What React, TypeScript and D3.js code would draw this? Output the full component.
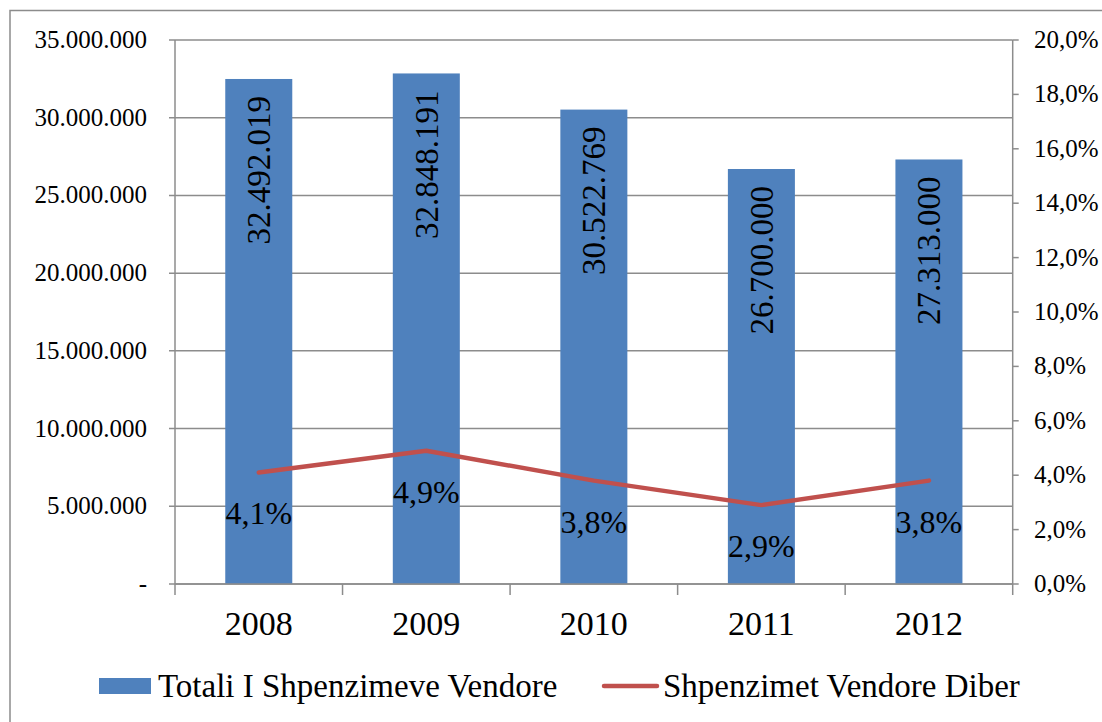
import React from 'react';
import * as d3 from 'd3';

// data
const years = ['2008', '2009', '2010', '2011', '2012'];
const totals = [32492019, 32848191, 30522769, 26700000, 27313000];
const diberShare = [4.1, 4.9, 3.8, 2.9, 3.8];
const leftTicks = [0, 5000000, 10000000, 15000000, 20000000, 25000000, 30000000, 35000000];
const rightTicks = [0, 2, 4, 6, 8, 10, 12, 14, 16, 18, 20];
const seriesNames = ['Totali I Shpenzimeve Vendore', 'Shpenzimet Vendore Diber'];

const W = 1102;
const H = 722;
const margin = { top: 40, right: 89.3, bottom: 138, left: 175 };
const FONT = "'Liberation Serif', serif";
const BLUE = '#4F81BD';
const RED = '#C0504D';
const GRID = '#8c8c8c';

// 32.492.019 style
const dotted = (v: number) => d3.format(',')(v).replace(/,/g, '.');
const comma1 = (v: number) => v.toFixed(1).replace('.', ',') + '%';

const App: React.FC = () => {
    const x0 = margin.left;
    const x1 = W - margin.right;
    const y0 = H - margin.bottom;
    const y1 = margin.top;

    const x = d3.scaleBand<string>().domain(years).range([x0, x1]).paddingInner(0.6).paddingOuter(0.3);
    const yL = d3.scaleLinear().domain([0, 35000000]).range([y0, y1]);
    const yR = d3.scaleLinear().domain([0, 20]).range([y0, y1]);

    const line = d3.line<number>()
        .x((_, i) => (x(years[i]) as number) + x.bandwidth() / 2)
        .y(d => yR(d));

    const step = (x1 - x0) / years.length;

    return (
        <svg width={W} height={H}
            style={{ position: 'absolute', left: 0, top: 0, background: '#fff', fontFamily: FONT }}>
            {/* chart border */}
            <rect x={10} y={10.5} width={W} height={H} fill="none" stroke={GRID} strokeWidth={1.5} />

            {/* gridlines + left axis */}
            {leftTicks.map(t => (
                <g key={t}>
                    <line x1={x0 - 6} x2={x1} y1={yL(t)} y2={yL(t)} stroke={GRID} strokeWidth={1.5} />
                    <text x={147} y={yL(t)} dy="0.32em" textAnchor="end" fontSize={25}>
                        {t === 0 ? '-' : dotted(t)}
                    </text>
                </g>
            ))}
            <line x1={x0} x2={x0} y1={y1} y2={y0} stroke={GRID} strokeWidth={1.5} />

            {/* right axis */}
            <line x1={x1} x2={x1} y1={y1} y2={y0} stroke={GRID} strokeWidth={1.5} />
            {rightTicks.map(t => (
                <g key={t}>
                    <line x1={x1} x2={x1 + 6} y1={yR(t)} y2={yR(t)} stroke={GRID} strokeWidth={1.5} />
                    <text x={1034} y={yR(t)} dy="0.32em" fontSize={25}>{comma1(t)}</text>
                </g>
            ))}

            {/* bars */}
            {totals.map((v, i) => (
                <rect key={years[i]} x={x(years[i])} y={yL(v)} width={x.bandwidth()} height={y0 - yL(v)} fill={BLUE} />
            ))}

            {/* bottom axis */}
            <line x1={x0} x2={x1} y1={y0} y2={y0} stroke={GRID} strokeWidth={1.5} />
            {d3.range(years.length + 1).map(i => (
                <line key={i} x1={x0 + i * step} x2={x0 + i * step} y1={y0} y2={y0 + 11} stroke={GRID} strokeWidth={1.5} />
            ))}
            {years.map(yr => (
                <text key={yr} x={(x(yr) as number) + x.bandwidth() / 2} y={635} textAnchor="middle" fontSize={34}>{yr}</text>
            ))}

            {/* bar value labels */}
            {totals.map((v, i) => {
                const cx = (x(years[i]) as number) + x.bandwidth() / 2;
                return (
                    <text key={years[i]} transform={`translate(${cx},${yL(v) + 17}) rotate(-90)`}
                        textAnchor="end" dy="0.34em" fontSize={33}>{dotted(v)}</text>
                );
            })}

            {/* line series */}
            <path d={line(diberShare) || ''} fill="none" stroke={RED} strokeWidth={4.5} strokeLinejoin="round" strokeLinecap="round" />
            {diberShare.map((v, i) => (
                <text key={years[i]} x={(x(years[i]) as number) + x.bandwidth() / 2} y={yR(v) + 52}
                    textAnchor="middle" fontSize={32}>{comma1(v)}</text>
            ))}

            {/* legend */}
            <rect x={99} y={678} width={52} height={16} fill={BLUE} />
            <text x={158} y={697} fontSize={33}>{seriesNames[0]}</text>
            <line x1={604} x2={657} y1={686} y2={686} stroke={RED} strokeWidth={4.5} strokeLinecap="round" />
            <text x={663} y={697} fontSize={33}>{seriesNames[1]}</text>
        </svg>
    );
};

export default App;
